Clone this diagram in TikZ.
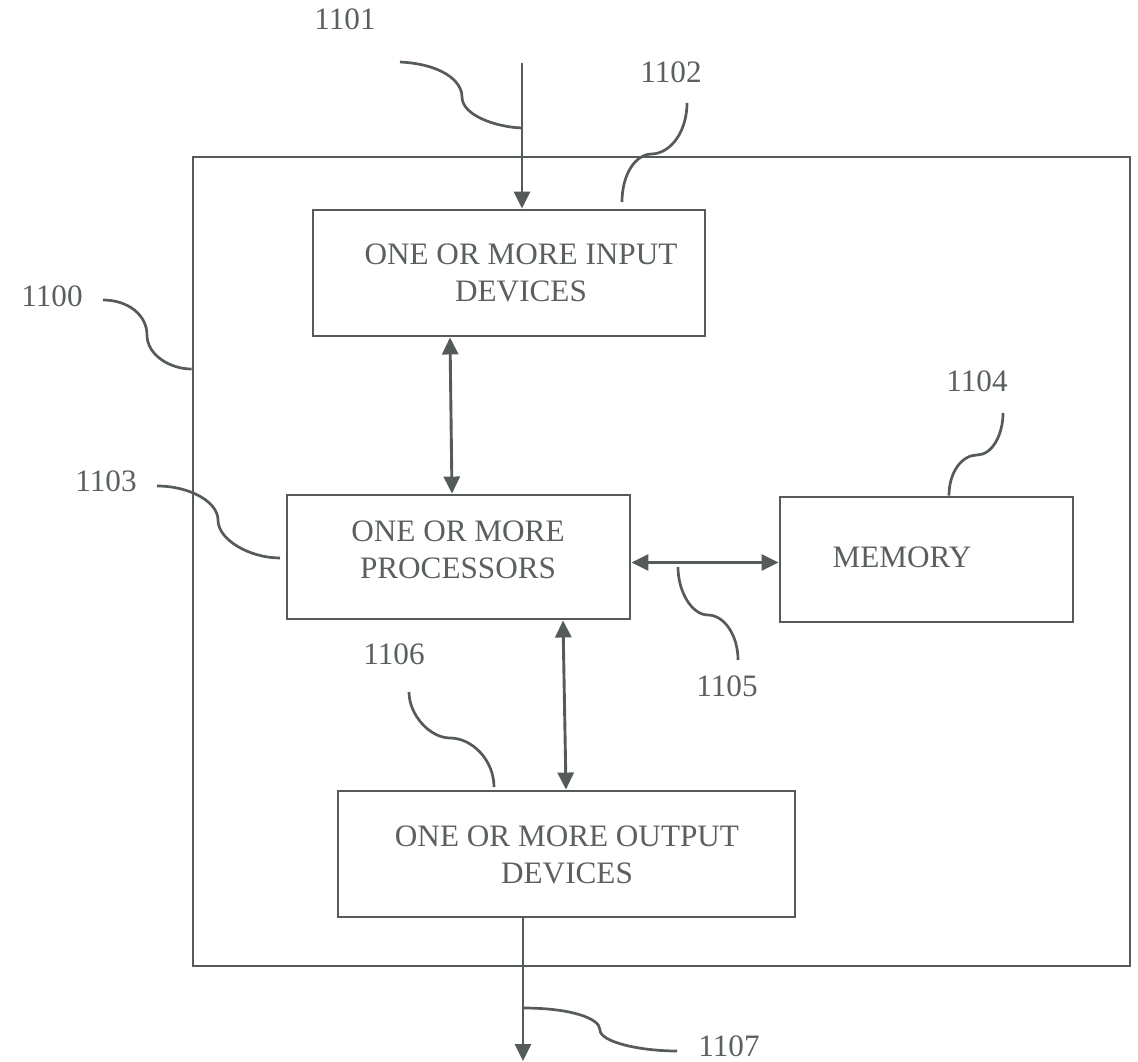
\documentclass[tikz,border=0pt]{standalone}
\usepackage{fontspec}
\setmainfont{Liberation Serif}
\usetikzlibrary{arrows.meta}
\definecolor{ink}{RGB}{85,90,90}
\definecolor{txt}{RGB}{90,95,95}
\begin{document}
\begin{tikzpicture}[x=1pt,y=-1pt,
  box/.style={draw=ink, line width=2.9pt, rectangle, inner sep=0pt},
  lbl/.style={text=txt, font=\fontsize{31.2}{37}\selectfont, inner sep=0pt, align=center},
  arr/.style={draw=ink, line width=2.9pt, -{Triangle[length=17pt,width=16pt]}},
  darr/.style={draw=ink, line width=2.9pt, {Triangle[length=17pt,width=16pt]}-{Triangle[length=17pt,width=16pt]}},
  lead/.style={draw=ink, line width=2.7pt}]
\useasboundingbox (0,0) rectangle (1138,1062);
% boxes
\node[box, minimum width=937pt, minimum height=809pt] (sys) at (661.5,561.5) {};
\node[box, minimum width=392pt, minimum height=126pt] (inp) at (509,273) {};
\node[box, minimum width=343pt, minimum height=124pt] (proc) at (458.5,557) {};
\node[box, minimum width=293pt, minimum height=125pt] (mem) at (926.5,559.5) {};
\node[box, minimum width=457pt, minimum height=126pt] (outp) at (566.5,854) {};
% box texts
\node[lbl] (inptxt) at (521,273) {ONE OR MORE INPUT\\DEVICES};
\node[lbl] (proctxt) at (458,549.5) {ONE OR MORE\\PROCESSORS};
\node[lbl] (memtxt) at (902,557.5) {MEMORY};
\node[lbl] (outtxt) at (567,854.5) {ONE OR MORE OUTPUT\\DEVICES};
% reference numerals
\node[lbl] (l1100) at (52,296) {1100};
\node[lbl] (l1101) at (345,19) {1101};
\node[lbl] (l1102) at (671,72) {1102};
\node[lbl] (l1103) at (106,481) {1103};
\node[lbl] (l1104) at (977,381) {1104};
\node[lbl] (l1105) at (727,686) {1105};
\node[lbl] (l1106) at (394,654) {1106};
\node[lbl] (l1107) at (729,1046) {1107};
% connectors
\coordinate (inTop) at (522,63);
\coordinate (outEnd) at (523,1061);
\draw[arr] (inTop) -- (inTop |- inp.north);
\draw[darr] (450,0 |- inp.south) -- (452,0 |- proc.north);
\draw[darr] (proc.east |- 0,562.5) -- (mem.west |- 0,562.5);
\draw[darr] (563,0 |- proc.south) -- (566,0 |- outp.north);
\draw[arr] (outEnd |- outp.south) -- (outEnd);
% leader lines
\coordinate (s1100) at (103,300); \coordinate (e1100) at (sys.west |- 0,369);
\coordinate (s1101) at (400,62);  \coordinate (e1101) at (522,128);
\coordinate (s1102) at (687,103); \coordinate (e1102) at (622,202);
\coordinate (s1103) at (157,486); \coordinate (e1103) at (280,558);
\coordinate (s1104) at (1003,413); \coordinate (e1104) at (949,0 |- mem.north);
\coordinate (s1105) at (738,660); \coordinate (e1105) at (678,567);
\coordinate (s1106) at (409,692); \coordinate (e1106) at (494,787);
\coordinate (s1107) at (677,1051); \coordinate (e1107) at (523,1008);
\draw[lead] (s1100) .. controls (128,300) and (147,315) .. (147,335) .. controls (147,355) and (170,369) .. (e1100);
\draw[lead] (s1101) .. controls (440,64) and (462,80) .. (462,97) .. controls (462,115) and (495,127) .. (e1101);
\draw[lead] (s1102) .. controls (687,130) and (672,153) .. (652,154) .. controls (635,154) and (622,175) .. (e1102);
\draw[lead] (s1103) .. controls (190,486) and (218,502) .. (218,520) .. controls (218,540) and (250,558) .. (e1103);
\draw[lead] (s1104) .. controls (1003,435) and (992,455) .. (977,455) .. controls (962,455) and (949,472) .. (e1104);
\draw[lead] (s1105) .. controls (738,635) and (724,615) .. (708,615) .. controls (692,615) and (678,592) .. (e1105);
\draw[lead] (s1106) .. controls (409,715) and (430,738) .. (450,738) .. controls (472,738) and (494,760) .. (e1106);
\draw[lead] (s1107) .. controls (640,1051) and (600,1042) .. (600,1030) .. controls (600,1018) and (570,1008) .. (e1107);
\end{tikzpicture}
\end{document}
